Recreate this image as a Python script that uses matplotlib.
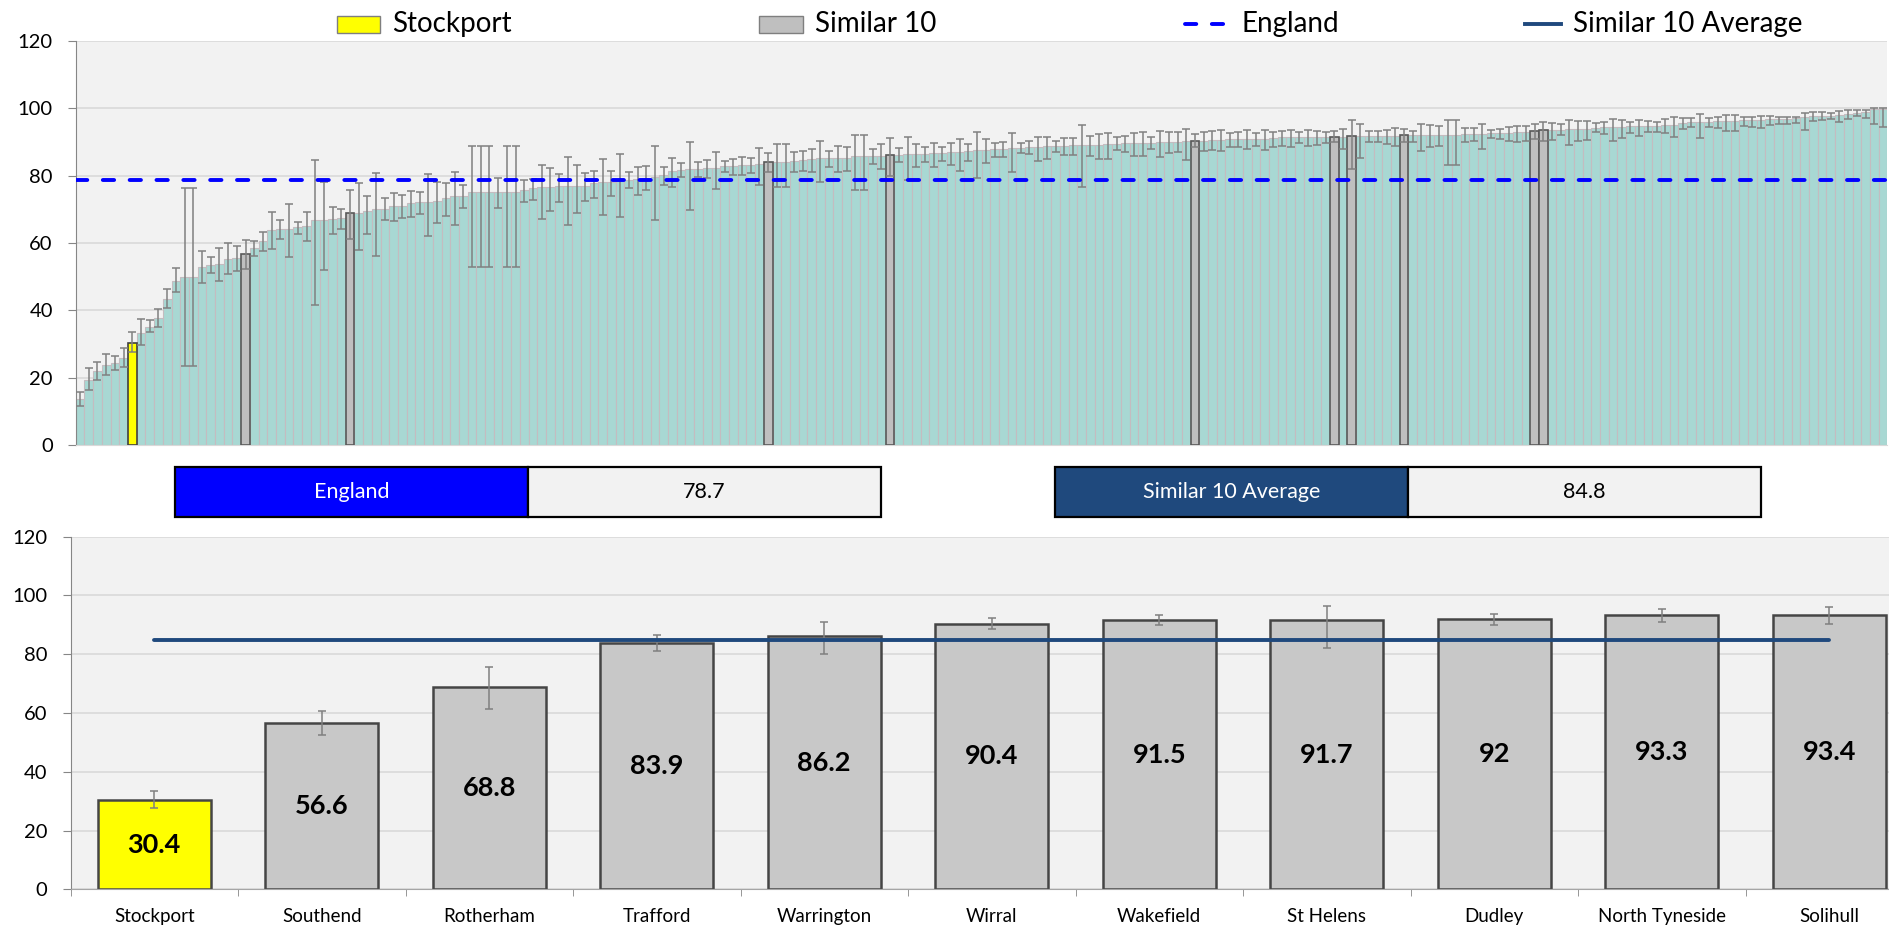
import numpy as np
import matplotlib
matplotlib.use('Agg')
import matplotlib.pyplot as plt
from matplotlib.patches import Rectangle
from matplotlib.lines import Line2D

plt.rcParams['font.family'] = ['Lato', 'DejaVu Sans']

# --- top panel: every area, sorted low to high ---
area_values = [
    13.6, 19.4, 21.9, 23.8, 24.5, 26.0, 30.4, 33.4, 35.2, 37.8,
    43.3, 48.7, 49.9, 49.9, 53.0, 53.5, 53.8, 55.4, 55.5, 56.6,
    58.4, 60.5, 63.8, 64.1, 64.2, 64.7, 65.0, 66.8, 66.8, 67.1,
    67.4, 68.8, 68.9, 69.4, 70.0, 70.0, 71.0, 71.0, 71.8, 72.1,
    72.2, 72.5, 73.2, 73.8, 73.9, 75.0, 75.0, 75.0, 75.0, 75.0,
    75.0, 75.7, 76.2, 76.5, 76.7, 76.9, 77.0, 77.0, 77.0, 77.8,
    78.0, 78.2, 78.5, 78.8, 78.9, 79.2, 79.7, 80.2, 81.4, 81.7,
    81.8, 82.0, 82.1, 82.1, 82.8, 82.9, 83.1, 83.1, 83.4, 83.9,
    84.0, 84.0, 84.3, 84.7, 84.8, 85.1, 85.2, 85.2, 85.3, 85.7,
    85.7, 85.7, 85.9, 86.2, 86.2, 86.3, 86.4, 86.5, 86.6, 86.8,
    86.9, 86.9, 87.2, 87.6, 87.6, 87.8, 87.9, 88.1, 88.2, 88.4,
    88.6, 88.7, 88.8, 88.8, 89.0, 89.0, 89.1, 89.2, 89.3, 89.3,
    89.6, 89.7, 89.7, 89.8, 89.9, 90.0, 90.1, 90.2, 90.4, 90.4,
    90.5, 90.6, 90.7, 90.7, 90.8, 90.8, 90.9, 91.0, 91.3, 91.4,
    91.4, 91.5, 91.5, 91.5, 91.5, 91.5, 91.7, 91.7, 91.7, 91.7,
    91.8, 91.8, 92.0, 92.0, 92.0, 92.0, 92.1, 92.1, 92.1, 92.2,
    92.2, 92.3, 92.5, 92.6, 92.7, 92.8, 93.0, 93.3, 93.4, 93.4,
    93.5, 93.7, 93.8, 93.9, 94.2, 94.3, 94.4, 94.5, 94.6, 94.7,
    94.7, 94.8, 94.9, 95.1, 95.6, 95.8, 95.9, 96.0, 96.1, 96.2,
    96.3, 96.4, 96.5, 96.6, 96.7, 96.8, 96.9, 97.0, 97.4, 97.7,
    97.8, 97.8, 98.1, 98.4, 98.6, 98.8, 99.8, 99.8,
]
area_lower = [
    11.7, 16.4, 19.4, 20.8, 22.3, 23.2, 27.6, 29.7, 33.7, 35.2,
    40.6, 45.4, 23.6, 23.6, 48.0, 51.0, 48.8, 50.8, 51.7, 52.4,
    56.1, 57.5, 58.1, 61.3, 55.9, 62.8, 60.6, 41.7, 52.0, 62.6,
    64.1, 61.3, 57.9, 62.7, 56.1, 66.7, 66.4, 67.5, 67.8, 68.7,
    62.2, 65.8, 68.1, 65.2, 70.3, 53.0, 53.0, 53.0, 70.3, 53.0,
    53.0, 72.1, 72.7, 67.2, 69.4, 72.1, 65.2, 68.9, 72.5, 73.4,
    68.2, 73.9, 67.7, 76.3, 74.2, 75.8, 66.9, 77.2, 76.6, 79.6,
    69.7, 79.5, 79.2, 76.0, 81.0, 80.2, 80.2, 80.7, 77.2, 81.0,
    76.5, 76.5, 81.2, 81.4, 81.0, 78.2, 82.6, 81.0, 81.3, 75.7,
    75.7, 83.4, 81.8, 80.0, 83.9, 78.7, 82.6, 84.1, 82.4, 84.4,
    83.1, 81.4, 84.4, 79.2, 83.6, 85.4, 85.4, 81.0, 86.6, 86.3,
    84.4, 84.8, 86.9, 86.0, 86.0, 76.5, 85.7, 85.0, 84.8, 87.6,
    87.1, 85.9, 85.8, 88.0, 85.5, 86.6, 86.9, 84.5, 88.6, 87.2,
    87.5, 87.3, 88.6, 88.6, 87.9, 88.9, 87.7, 88.6, 88.7, 88.6,
    89.7, 88.8, 89.2, 89.6, 89.9, 88.0, 82.0, 85.3, 89.9, 89.9,
    89.5, 88.8, 89.9, 90.1, 87.4, 88.4, 88.8, 83.2, 83.2, 90.0,
    90.2, 88.0, 91.0, 90.7, 90.2, 90.1, 90.3, 90.8, 90.2, 90.5,
    92.1, 89.2, 90.2, 90.5, 92.8, 92.2, 90.2, 91.2, 92.5, 91.8,
    92.8, 93.0, 92.5, 91.3, 93.9, 94.3, 91.2, 94.5, 94.0, 93.1,
    93.2, 94.6, 94.4, 94.1, 95.1, 95.3, 95.3, 95.6, 93.5, 96.2,
    96.4, 96.8, 95.9, 96.7, 97.8, 97.2, 95.4, 94.3,
]
area_upper = [
    15.7, 22.9, 24.8, 27.2, 26.4, 29.0, 33.5, 37.5, 37.2, 40.4,
    46.3, 52.5, 76.3, 76.3, 57.7, 55.7, 58.5, 60.0, 59.2, 60.8,
    60.5, 63.2, 69.1, 66.7, 71.6, 66.3, 69.1, 84.7, 78.1, 70.8,
    70.2, 75.6, 77.9, 74.0, 80.9, 73.3, 74.9, 74.2, 75.5, 75.1,
    80.4, 78.0, 77.9, 81.2, 77.3, 88.8, 88.8, 88.8, 79.2, 88.8,
    88.8, 78.7, 79.1, 83.2, 82.1, 80.5, 85.4, 83.2, 80.7, 81.3,
    85.0, 81.4, 86.5, 81.1, 82.4, 82.8, 88.8, 82.4, 85.1, 83.6,
    89.9, 83.9, 84.5, 86.9, 84.3, 85.0, 85.4, 85.1, 88.1, 86.7,
    89.4, 89.4, 86.9, 87.4, 87.8, 90.2, 87.4, 88.7, 88.4, 92.0,
    92.0, 87.9, 89.3, 91.0, 88.1, 91.5, 89.5, 88.6, 89.8, 88.6,
    89.6, 90.9, 89.3, 93.0, 90.7, 89.8, 90.0, 92.6, 89.7, 90.4,
    91.5, 91.5, 90.4, 91.0, 91.2, 95.1, 91.8, 92.4, 92.7, 91.3,
    91.7, 92.5, 92.8, 91.4, 93.1, 92.8, 92.8, 93.9, 92.2, 92.8,
    93.1, 93.6, 92.7, 92.8, 93.4, 92.7, 93.4, 93.0, 93.3, 93.6,
    92.9, 93.4, 93.1, 92.9, 93.2, 93.9, 96.5, 95.4, 93.1, 93.2,
    93.5, 94.1, 93.8, 93.1, 95.2, 95.0, 94.8, 96.6, 96.6, 94.0,
    94.2, 95.4, 93.6, 93.8, 94.5, 94.8, 94.8, 95.4, 96.0, 95.6,
    95.4, 96.6, 96.2, 96.2, 95.5, 95.9, 96.9, 96.6, 95.9, 96.6,
    96.2, 95.9, 96.8, 97.4, 97.0, 97.1, 98.4, 97.2, 97.5, 97.9,
    97.9, 97.3, 97.5, 97.8, 97.6, 97.4, 97.5, 97.4, 98.7, 98.8,
    98.9, 98.7, 99.2, 99.3, 99.3, 99.3, 99.9, 99.9,
]
stockport_idx = 6
similar_idx = [19, 31, 79, 93, 128, 144, 146, 152, 167, 168]

# --- bottom panel: Stockport and its similar 10 ---
names = ['Stockport', 'Southend', 'Rotherham', 'Trafford', 'Warrington', 'Wirral',
         'Wakefield', 'St Helens', 'Dudley', 'North Tyneside', 'Solihull']
values = [30.4, 56.6, 68.8, 83.9, 86.2, 90.4, 91.5, 91.7, 92, 93.3, 93.4]
lower = [27.6, 52.4, 61.3, 81.0, 80.0, 88.6, 89.9, 82.0, 89.9, 90.8, 90.2]
upper = [33.5, 60.8, 75.6, 86.7, 91.0, 92.2, 93.2, 96.5, 93.8, 95.4, 96.0]

england = 78.7
similar_avg = 84.8

W, H = 1889, 925
fig = plt.figure(figsize=(W / 100, H / 100), dpi=100)

BG = '#F2F2F2'
GRID = '#D9D9D9'
AXIS = '#868686'
TEAL = '#A8D8D3'
GREY = '#BFBFBF'
YELLOW = '#FFFF00'
ENG = '#0000FF'
AVG = '#1F497D'
ENG_DASH = (2.9, 4.0)


def style_axis(ax):
    ax.set_facecolor(BG)
    ax.set_axisbelow(True)
    ax.yaxis.grid(True, color=GRID, lw=1.2)
    for s in ['top', 'right']:
        ax.spines[s].set_visible(False)
    ax.spines['left'].set_color(AXIS)
    ax.set_ylim(0, 120)
    ax.set_yticks(range(0, 121, 20))
    ax.tick_params(axis='y', length=6, color=AXIS, labelsize=14.5, pad=10.5)


# Top chart
ax1 = fig.add_axes([75.7 / W, 1 - 445.3 / H, 1811.7 / W, 404.6 / H])
style_axis(ax1)
ax1.spines['bottom'].set_color(GRID)
vals = np.array(area_values)
x = np.arange(len(vals))
ax1.bar(x, vals, width=1.0, color=TEAL, edgecolor='#C4BCC0', linewidth=0.8, zorder=2)
ax1.bar(x[similar_idx], vals[similar_idx], width=1.0, color=GREY,
        edgecolor='#595959', linewidth=1.2, zorder=3)
ax1.bar(x[stockport_idx], vals[stockport_idx], width=1.0, color=YELLOW,
        edgecolor='#404040', linewidth=1.2, zorder=3)
yerr = [vals - np.array(area_lower), np.array(area_upper) - vals]
ax1.errorbar(x, vals, yerr=yerr, fmt='none', ecolor='#808080', elinewidth=1.1,
             capsize=2.6, capthick=1.1, zorder=4)
ax1.axhline(england, color=ENG, lw=2.8, dashes=ENG_DASH, dash_capstyle='round', zorder=5)
ax1.set_xlim(-0.5, len(vals) - 0.5)
ax1.set_xticks([])

# Bottom chart
ax2 = fig.add_axes([70.5 / W, 1 - 889.3 / H, 1842.5 / W, 352.6 / H])
style_axis(ax2)
ax2.spines['bottom'].set_color('#A6A6A6')
xb = np.arange(len(names))
bcolors = [YELLOW] + ['#C8C8C8'] * (len(names) - 1)
ax2.bar(xb, values, width=0.675, color=bcolors, edgecolor='#454545', linewidth=1.8, zorder=2)
berr = [np.array(values) - np.array(lower), np.array(upper) - np.array(values)]
ax2.errorbar(xb, values, yerr=berr, fmt='none', ecolor='#808080', elinewidth=1.1,
             capsize=3, capthick=1.1, zorder=4)
ax2.plot([xb[0], xb[-1]], [similar_avg, similar_avg], color=AVG, lw=2.8,
         solid_capstyle='round', zorder=5)
for xi, v in zip(xb, values):
    ax2.text(xi, v / 2, f'{v:g}', ha='center', va='center', fontsize=19.5,
             fontweight='bold', zorder=6)
ax2.set_xlim(-0.5, len(names) - 0.5)
ax2.set_xticks(xb)
ax2.set_xticklabels(names, fontsize=13.5)
ax2.set_xticks(np.arange(-0.5, len(names), 1), minor=True)
ax2.tick_params(axis='x', which='major', length=0, pad=13.5)
ax2.tick_params(axis='x', which='minor', length=5, color=AXIS)

# Overlay in pixel coordinates for legend and value boxes
ov = fig.add_axes([0, 0, 1, 1])
ov.set_xlim(0, W)
ov.set_ylim(H, 0)
ov.set_axis_off()

ly = 24
ov.add_patch(Rectangle((337, 15.5), 43, 17, fc=YELLOW, ec='#7F7F7F', lw=1))
ov.text(392, ly, 'Stockport', fontsize=20, va='center')
ov.add_patch(Rectangle((759, 15.5), 44, 17, fc=GREY, ec='#7F7F7F', lw=1))
ov.text(815, ly, 'Similar 10', fontsize=20, va='center')
ov.add_line(Line2D([1185, 1224], [ly, ly], color=ENG, lw=2.8, dashes=ENG_DASH,
                   dash_capstyle='round'))
ov.text(1242, ly, 'England', fontsize=20, va='center')
ov.add_line(Line2D([1525, 1561], [ly, ly], color=AVG, lw=2.8))
ov.text(1573, ly, 'Similar 10 Average', fontsize=20, va='center')

by, bh = 467.3, 49.4
ov.add_patch(Rectangle((175.4, by), 352.6, bh, fc=ENG, ec='black', lw=1.6))
ov.add_patch(Rectangle((528, by), 352.6, bh, fc=BG, ec='black', lw=1.6))
ov.text(351.7, by + bh / 2, 'England', color='white', fontsize=15.5, ha='center', va='center')
ov.text(704.3, by + bh / 2, f'{england}', fontsize=15.5, ha='center', va='center')
ov.add_patch(Rectangle((1055.3, by), 352.5, bh, fc=AVG, ec='black', lw=1.6))
ov.add_patch(Rectangle((1407.8, by), 353.2, bh, fc=BG, ec='black', lw=1.6))
ov.text(1231.5, by + bh / 2, 'Similar 10 Average', color='white', fontsize=15.5,
        ha='center', va='center')
ov.text(1584.4, by + bh / 2, f'{similar_avg}', fontsize=15.5, ha='center', va='center')

fig.savefig('out.png', dpi=100)
